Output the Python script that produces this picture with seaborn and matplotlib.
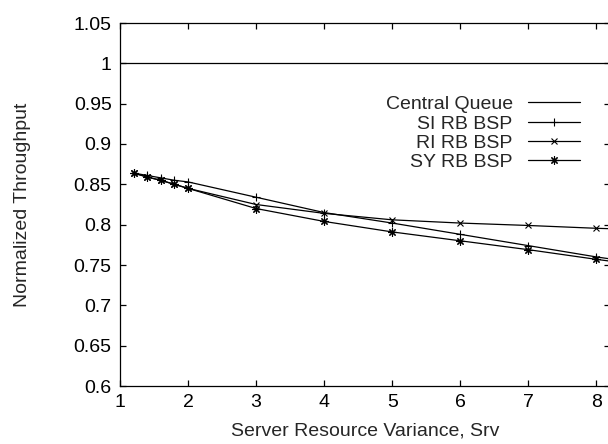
import matplotlib
matplotlib.use("Agg")
import matplotlib.pyplot as plt
import seaborn as sns
import pandas as pd

sns.set_style("ticks")
plt.rcParams['font.family'] = ['Liberation Sans', 'DejaVu Sans']
plt.rcParams['font.size'] = 14

# Data
cq_x = [1, 2, 3, 4, 5, 6, 7, 8, 9]
cq_y = [1.0, 1.0, 1.0, 1.0, 1.0, 1.0, 1.0, 1.0, 1.0]

x = [1.2, 1.4, 1.6, 1.8, 2, 3, 4, 5, 6, 7, 8, 9]
si_rb_bsp = [0.864, 0.861, 0.858, 0.855, 0.853, 0.834, 0.815, 0.802, 0.788, 0.774, 0.760, 0.748]
ri_rb_bsp = [0.864, 0.859, 0.855, 0.850, 0.845, 0.825, 0.814, 0.806, 0.802, 0.799, 0.7955, 0.793]
sy_rb_bsp = [0.864, 0.859, 0.855, 0.850, 0.845, 0.820, 0.804, 0.791, 0.780, 0.769, 0.757, 0.746]

x_ticks = [1, 2, 3, 4, 5, 6, 7, 8]
y_ticks = [0.6, 0.65, 0.7, 0.75, 0.8, 0.85, 0.9, 0.95, 1, 1.05]
y_tick_labels = ["0.6", "0.65", "0.7", "0.75", "0.8", "0.85", "0.9", "0.95", "1", "1.05"]

W, H = 608, 444
fig = plt.figure(figsize=(W / 100, H / 100), dpi=100)
ax = fig.add_axes([120 / W, 1 - 386 / H, (610 - 120) / W, (386 - 23) / H])

lw = 0.9
mk = dict(markeredgecolor="black", markerfacecolor="black", markeredgewidth=0.8)
sns.lineplot(x=cq_x, y=cq_y, ax=ax, color="black", lw=lw, label="Central Queue")
sns.lineplot(x=x, y=si_rb_bsp, ax=ax, color="black", lw=lw, marker="+",
             markersize=6, label="SI RB BSP", **mk)
sns.lineplot(x=x, y=ri_rb_bsp, ax=ax, color="black", lw=lw, marker="x",
             markersize=4.5, label="RI RB BSP", **mk)
sns.lineplot(x=x, y=sy_rb_bsp, ax=ax, color="black", lw=lw, marker=(8, 2, 0),
             markersize=6, label="SY RB BSP", **mk)

ax.set_xlim(1, 8.2)
ax.set_ylim(0.6, 1.05)
ax.set_xticks(x_ticks)
ax.set_xticklabels([str(v) for v in x_ticks])
ax.set_yticks(y_ticks)
ax.set_yticklabels(y_tick_labels)
ax.tick_params(direction="in", length=4, width=0.9, top=True, right=True,
               labelsize=14, pad=6, colors="black")
for s in ax.spines.values():
    s.set_linewidth(0.9)
    s.set_color("black")

ax.set_xlabel("Server Resource Variance, Srv", fontsize=14, labelpad=8)
ax.set_ylabel("Normalized Throughput", fontsize=14, labelpad=31)

leg = ax.legend(loc="upper right", bbox_to_anchor=(0.939, 0.800), frameon=False,
                markerfirst=False, handlelength=2.7, handletextpad=0.77,
                labelspacing=0.09, borderpad=0, borderaxespad=0, fontsize=14)
for t in leg.get_texts():
    t.set_ha("right")

fig.savefig("out.png", dpi=100)
